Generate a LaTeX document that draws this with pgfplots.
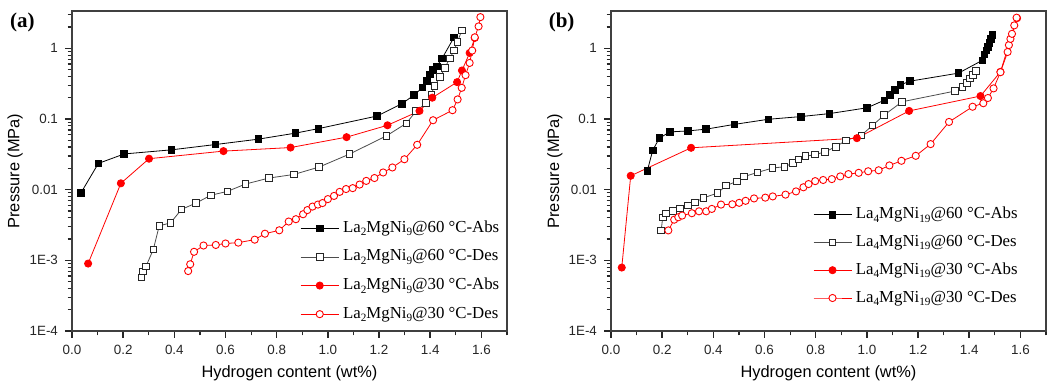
\documentclass[border=0pt]{standalone}
\usepackage{pgfplots}
\pgfplotsset{compat=1.18}
\usepackage{pgfplotstable}
\usepackage{fontspec}
\setmainfont{Liberation Sans}
\newfontfamily\tnr{Liberation Serif}
\newcommand{\sub}[1]{\raisebox{-0.45ex}{\fontsize{5.6}{6}\selectfont #1}}

\pgfplotstableread{
x y
0.035 0.0090
0.103 0.0235
0.204 0.0320
0.389 0.0366
0.561 0.0435
0.728 0.0518
0.873 0.063
0.963 0.073
1.192 0.110
1.289 0.164
1.337 0.218
1.370 0.279
1.386 0.343
1.398 0.426
1.410 0.494
1.426 0.557
1.446 0.716
1.493 1.43
}\AabsSixty

\pgfplotstableread{
x y
0.271 0.000570
0.277 0.000700
0.289 0.000820
0.318 0.00143
0.341 0.00308
0.385 0.00338
0.428 0.00526
0.485 0.00646
0.542 0.00832
0.607 0.00944
0.678 0.0120
0.770 0.0146
0.867 0.0164
0.966 0.0209
1.084 0.0318
1.229 0.0577
1.307 0.0869
1.345 0.130
1.384 0.167
1.404 0.223
1.416 0.292
1.439 0.391
1.457 0.529
1.476 0.716
1.493 0.93
1.507 1.24
1.523 1.79
}\AdesSixty

\pgfplotstableread{
x y
0.063 0.00090
0.191 0.0123
0.301 0.0274
0.592 0.0351
0.854 0.0394
1.073 0.0553
1.233 0.0814
1.358 0.130
1.408 0.200
1.505 0.332
1.524 0.485
1.554 0.86
1.574 1.40
}\AabsThirty

\pgfplotstableread{
x y
0.454 0.000705
0.462 0.00088
0.477 0.00132
0.514 0.00162
0.562 0.00165
0.600 0.00173
0.650 0.00178
0.714 0.00196
0.754 0.00238
0.810 0.00266
0.847 0.00354
0.875 0.00382
0.903 0.00449
0.920 0.00514
0.940 0.00576
0.961 0.00615
0.979 0.00646
1.000 0.00735
1.024 0.00815
1.046 0.0093
1.071 0.0102
1.097 0.0105
1.124 0.0118
1.150 0.0133
1.182 0.0146
1.216 0.0175
1.252 0.0206
1.299 0.0269
1.349 0.0431
1.411 0.096
1.487 0.133
1.507 0.189
1.523 0.276
1.538 0.417
1.554 0.621
1.564 0.929
1.574 1.43
1.589 2.04
1.596 2.76
}\AdesThirty

\pgfplotstableread{
x y
0.142 0.0185
0.163 0.036
0.189 0.0535
0.230 0.0656
0.300 0.0677
0.372 0.0718
0.482 0.0838
0.615 0.099
0.741 0.108
0.853 0.119
1.001 0.144
1.068 0.184
1.090 0.218
1.109 0.258
1.131 0.304
1.169 0.343
1.358 0.445
1.452 0.678
1.459 0.815
1.467 0.929
1.474 1.04
1.479 1.19
1.484 1.35
1.491 1.56
}\BabsSixty

\pgfplotstableread{
x y
0.196 0.00263
0.202 0.00403
0.215 0.00462
0.241 0.00498
0.270 0.00540
0.300 0.00598
0.329 0.00662
0.361 0.00764
0.416 0.00893
0.450 0.0114
0.492 0.0131
0.520 0.0153
0.572 0.0175
0.631 0.0202
0.678 0.0211
0.711 0.0238
0.732 0.0269
0.760 0.0297
0.798 0.0313
0.837 0.0343
0.878 0.0404
0.919 0.0497
0.978 0.0586
1.022 0.0810
1.067 0.113
1.137 0.175
1.344 0.248
1.373 0.282
1.390 0.324
1.403 0.374
1.414 0.423
1.426 0.482
}\BdesSixty

\pgfplotstableread{
x y
0.042 0.00079
0.077 0.0157
0.313 0.0391
0.961 0.0535
1.165 0.130
1.444 0.211
1.522 0.464
1.587 2.67
}\BabsThirty

\pgfplotstableread{
x y
0.224 0.00265
0.247 0.00376
0.263 0.00407
0.278 0.00430
0.316 0.00464
0.344 0.00494
0.372 0.00494
0.394 0.00534
0.430 0.00615
0.474 0.00621
0.501 0.00651
0.526 0.00695
0.559 0.00751
0.603 0.00771
0.632 0.00802
0.682 0.00850
0.723 0.00944
0.752 0.0108
0.772 0.0120
0.798 0.0132
0.829 0.0137
0.863 0.0141
0.896 0.0154
0.928 0.0166
0.968 0.0173
1.005 0.0182
1.046 0.0188
1.088 0.0220
1.135 0.0256
1.191 0.0301
1.249 0.0441
1.321 0.0908
1.413 0.149
1.455 0.167
1.473 0.198
1.495 0.271
1.522 0.459
1.550 0.887
1.555 1.11
1.561 1.36
1.567 1.60
1.576 2.11
1.585 2.71
}\BdesThirty

\tikzset{
  sabs/.style={black, line width=0.4pt, mark=square*, mark size=1.65pt, mark options={solid, fill=black, draw=black}},
  sdes/.style={black!70, line width=0.4pt, mark=square*, mark size=1.65pt, mark options={solid, fill=white, draw=black!85, line width=0.45pt}},
  cabs/.style={red, line width=0.4pt, mark=*, mark size=1.8pt, mark options={solid, fill=red, draw=red}},
  cdes/.style={red, line width=0.4pt, mark=*, mark size=1.8pt, mark options={solid, fill=white, draw=red, line width=0.45pt}},
}
\pgfplotsset{
  legend image code/.code={\draw[mark repeat=2,mark phase=2,#1] plot coordinates {(0pt,0pt) (9.5pt,0pt) (19pt,0pt)};},
  myticks/.style={
    xtick pos=bottom, ytick pos=left, tick align=outside,
    major tick length=3.5pt, minor tick length=2.2pt,
    major tick style={draw=black!85, line width=0.75pt},
    minor tick style={draw=black!85, line width=0.6pt},
  },
}

\begin{document}
\begin{tikzpicture}
\path[use as bounding box] (0,0) rectangle (529.5pt,195pt);

\begin{axis}[at={(36pt,29.5pt)},
    anchor=south west, scale only axis, width=217.5pt, height=160pt,
    xmin=0, xmax=1.7, ymode=log, ymin=1e-4, ymax=3.37,
    xtick={0,0.2,0.4,0.6,0.8,1.0,1.2,1.4,1.6},
    xticklabels={0.0,0.2,0.4,0.6,0.8,1.0,1.2,1.4,1.6},
    minor xtick={0.1,0.3,0.5,0.7,0.9,1.1,1.3,1.5,1.7},
    ytick={1e-4,1e-3,1e-2,1e-1,1},
    yticklabels={1E-4,1E-3,0.01,0.1,1},
    minor ytick={2e-4,3e-4,4e-4,5e-4,6e-4,7e-4,8e-4,9e-4,2e-3,3e-3,4e-3,5e-3,6e-3,7e-3,8e-3,9e-3,2e-2,3e-2,4e-2,5e-2,6e-2,7e-2,8e-2,9e-2,0.2,0.3,0.4,0.5,0.6,0.7,0.8,0.9,2,3},
    myticks,
    axis line style={draw=black!75, line width=0.75pt},
    tick label style={font=\fontsize{6.7}{7}\selectfont, text=black!85},
    xlabel style={at={(axis description cs:0.5,-0.131)}, anchor=center, font=\fontsize{8.2}{9}\selectfont},
    ylabel style={at={(axis description cs:-0.131,0.5)}, rotate=0, anchor=center, font=\fontsize{8.2}{9}\selectfont},
    xlabel={Hydrogen content (wt\%)},
    ylabel={Pressure (MPa)},
    legend cell align=left,
    legend style={draw=none, fill=none, anchor=north west, inner sep=0pt,
      font=\tnr\fontsize{8.4}{10}\selectfont, column sep=2pt,
      nodes={inner sep=0pt, text height=6pt, text depth=2pt},
      at={(axis description cs:0.524,0.347)}, row sep=6.3pt}]
\addplot[sabs] table {\AabsSixty};
\addlegendentry{La\sub{2}MgNi\sub{9}@60 °C-Abs}
\addplot[sdes] table {\AdesSixty};
\addlegendentry{La\sub{2}MgNi\sub{9}@60 °C-Des}
\addplot[cabs] table {\AabsThirty};
\addlegendentry{La\sub{2}MgNi\sub{9}@30 °C-Abs}
\addplot[cdes] table {\AdesThirty};
\addlegendentry{La\sub{2}MgNi\sub{9}@30 °C-Des}
\end{axis}

\begin{axis}[at={(305.5pt,29.5pt)},
    anchor=south west, scale only axis, width=217.5pt, height=160pt,
    xmin=0, xmax=1.7, ymode=log, ymin=1e-4, ymax=3.37,
    xtick={0,0.2,0.4,0.6,0.8,1.0,1.2,1.4,1.6},
    xticklabels={0.0,0.2,0.4,0.6,0.8,1.0,1.2,1.4,1.6},
    minor xtick={0.1,0.3,0.5,0.7,0.9,1.1,1.3,1.5,1.7},
    ytick={1e-4,1e-3,1e-2,1e-1,1},
    yticklabels={1E-4,1E-3,0.01,0.1,1},
    minor ytick={2e-4,3e-4,4e-4,5e-4,6e-4,7e-4,8e-4,9e-4,2e-3,3e-3,4e-3,5e-3,6e-3,7e-3,8e-3,9e-3,2e-2,3e-2,4e-2,5e-2,6e-2,7e-2,8e-2,9e-2,0.2,0.3,0.4,0.5,0.6,0.7,0.8,0.9,2,3},
    myticks,
    axis line style={draw=black!75, line width=0.75pt},
    tick label style={font=\fontsize{6.7}{7}\selectfont, text=black!85},
    xlabel style={at={(axis description cs:0.5,-0.131)}, anchor=center, font=\fontsize{8.2}{9}\selectfont},
    ylabel style={at={(axis description cs:-0.129,0.5)}, rotate=0, anchor=center, font=\fontsize{8.2}{9}\selectfont},
    xlabel={Hydrogen content (wt\%)},
    ylabel={Pressure (MPa)},
    legend cell align=left,
    legend style={draw=none, fill=none, anchor=north west, inner sep=0pt,
      font=\tnr\fontsize{8.4}{10}\selectfont, column sep=2pt,
      nodes={inner sep=0pt, text height=6pt, text depth=2pt},
      at={(axis description cs:0.4637,0.39)}, row sep=5.9pt}]
\addplot[sabs] table {\BabsSixty};
\addlegendentry{La\sub{4}MgNi\sub{19}@60 °C-Abs}
\addplot[sdes] table {\BdesSixty};
\addlegendentry{La\sub{4}MgNi\sub{19}@60 °C-Des}
\addplot[cabs] table {\BabsThirty};
\addlegendentry{La\sub{4}MgNi\sub{19}@30 °C-Abs}
\addplot[cdes] table {\BdesThirty};
\addlegendentry{La\sub{4}MgNi\sub{19}@30 °C-Des}
\end{axis}

\node[font=\tnr\bfseries\fontsize{10.5}{12}\selectfont] at (11.2pt,184pt) {(a)};
\node[font=\tnr\bfseries\fontsize{10.5}{12}\selectfont] at (280.8pt,184pt) {(b)};
\end{tikzpicture}
\end{document}
